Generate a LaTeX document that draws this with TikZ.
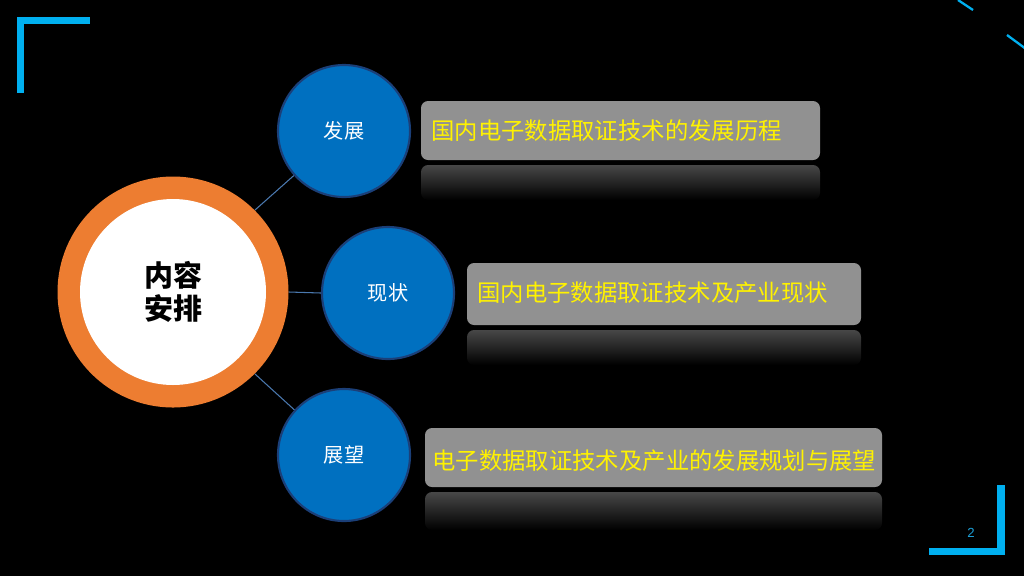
\documentclass[tikz,border=0pt]{standalone}
\usepackage{fontspec}
\usetikzlibrary{backgrounds}
\newfontfamily\cjk{Noto Sans CJK SC}
\setmainfont{Liberation Sans}
\definecolor{cyanbar}{HTML}{00B0F0}
\definecolor{ringor}{HTML}{ED7D31}
\definecolor{bluec}{HTML}{0070C0}
\definecolor{blueedge}{HTML}{1B3F78}
\definecolor{boxgray}{HTML}{919191}
\definecolor{linkc}{HTML}{4A78AE}
\definecolor{pagenum}{HTML}{1CA0D8}
\tikzset{
  bar/.style={fill=cyanbar},
  topic/.style={circle, fill=bluec, draw=blueedge, line width=1.2pt, minimum size=132*0.02cm, inner sep=0pt, text=white, font=\cjk\fontsize{11.5}{13}\selectfont},
  itembox/.style={rounded corners=4pt, fill=boxgray},
  itemtext/.style={anchor=west, text=yellow, inner sep=0pt, font=\cjk\fontsize{13.3}{15}\selectfont},
  reflect/.style={rounded corners=4pt, top color=black!72, bottom color=black},
  link/.style={draw=linkc, line width=0.6pt},
}
\begin{document}
\begin{tikzpicture}[x=0.02cm,y=-0.02cm]
\useasboundingbox (0,0) rectangle (1024,576);
% corner brackets
\fill[bar] (17,17) rectangle (24,93);
\fill[bar] (17,17) rectangle (90,24);
\fill[bar] (997,485) rectangle (1005,555);
\fill[bar] (929,548) rectangle (1005,555);
\coordinate (d1a) at (958,0); \coordinate (d1b) at (973,10);
\coordinate (d2a) at (1007,35); \coordinate (d2b) at (1026,49);
\draw[cyanbar, line width=1.3pt] (d1a) -- (d1b);
\draw[cyanbar, line width=1.3pt] (d2a) -- (d2b);
\node[text=pagenum, font=\fontsize{7.5}{8}\selectfont] (page) at (971,533) {2};
% central circle
\node[circle, fill=ringor, minimum size=231*0.02cm, inner sep=0pt] (ring) at (173,292) {};
\node[circle, fill=white, minimum size=186*0.02cm, inner sep=0pt, align=center, font=\cjk\bfseries\fontsize{16.5}{18.5}\selectfont] (core) at (173,292) {内容\\安排};
% topic circles
\node[topic] (t1) at (344,131) {发展};
\node[topic] (t2) at (388,293) {现状};
\node[topic] (t3) at (344,455) {展望};
% background and links
\begin{pgfonlayer}{background}
\fill[black] (0,0) rectangle (1024,576);
\draw[link] (ring.45) -- (t1);
\draw[link] (ring.east) -- (t2.west);
\draw[link] (ring.-45) -- (t3);
\end{pgfonlayer}
% boxes
\fill[reflect] (421,165) rectangle (820,200);
\fill[itembox] (421,101) rectangle (820,160);
\node[itemtext] (b1) at (431,131) {国内电子数据取证技术的发展历程};
\fill[reflect] (467,330) rectangle (861,365);
\fill[itembox] (467,263) rectangle (861,325);
\node[itemtext] (b2) at (477,293) {国内电子数据取证技术及产业现状};
\fill[reflect] (425,492) rectangle (882,530);
\fill[itembox] (425,428) rectangle (882,487);
\node[itemtext] (b3) at (432,461) {电子数据取证技术及产业的发展规划与展望};
\end{tikzpicture}
\end{document}
